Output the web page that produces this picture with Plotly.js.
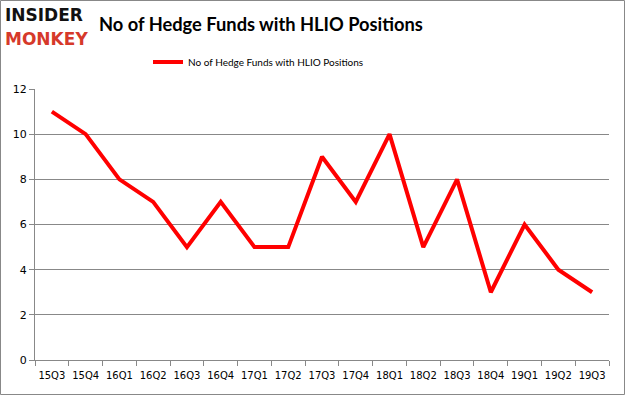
<!DOCTYPE html>
<html><head><meta charset="utf-8">
<script src="https://cdn.plot.ly/plotly-3.0.1.min.js"></script>
<style>body{margin:0;background:#fff}#c{width:625px;height:395px}</style>
</head><body><div id="c"></div>
<script>
const quarters = ["15Q3","15Q4","16Q1","16Q2","16Q3","16Q4","17Q1","17Q2","17Q3","17Q4","18Q1","18Q2","18Q3","18Q4","19Q1","19Q2","19Q3"];
const hedgeFunds = [11,10,8,7,5,7,5,5,9,7,10,5,8,3,6,4,3];
const seriesName = "No of Hedge Funds with HLIO Positions";
const yTicks = [0,2,4,6,8,10,12];

const L=35,R=16,T=89,B=35,W=625,H=395;
const pw=W-L-R, ph=H-T-B;
const px = x => (x-L)/pw;
const py = y => 1-(y-T)/ph;

Plotly.newPlot('c',[{
  x:quarters, y:hedgeFunds, type:'scatter', mode:'lines', name:seriesName,
  line:{color:'#ff0000',width:4}
}],{
  width:W,height:H,margin:{l:L,r:R,t:T,b:B},
  paper_bgcolor:'#fff',plot_bgcolor:'#fff',
  font:{family:'DejaVu Sans, Verdana, sans-serif',color:'#222'},
  title:{text:'<b>No of Hedge Funds with HLIO Positions</b>',xref:'container',yref:'container',
    x:99/W,xanchor:'left',y:1-25/H,yanchor:'middle',
    font:{family:'Lato, Noto Sans, sans-serif',size:18.3,color:'#000'}},
  showlegend:true,
  legend:{orientation:'h',x:px(148),xanchor:'left',y:py(62),yanchor:'middle',
    font:{family:'Lato, sans-serif',size:10,color:'#000'},bgcolor:'rgba(0,0,0,0)'},
  xaxis:{type:'category',range:[-0.5,16.5],tickson:'boundaries',ticks:'outside',ticklen:5,
    tickangle:0,tickcolor:'#888',showline:true,linecolor:'#888',showgrid:false,
    ticklabelstandoff:6,
    tickfont:{size:10,color:'#000'},fixedrange:true},
  yaxis:{range:[0,12],tickvals:yTicks,ticks:'outside',ticklen:5,tickcolor:'#888',
    showline:true,linecolor:'#888',showgrid:true,gridcolor:'#888',gridwidth:1,zeroline:false,
    tickfont:{size:11,color:'#000'},fixedrange:true},
  shapes:[{type:'rect',xref:'paper',yref:'paper',x0:px(0.5),x1:px(624.5),y0:py(394.5),y1:py(0.5),
    line:{color:'#888',width:1}}],
  annotations:[
    {text:'<b>INSIDER</b>',xref:'paper',yref:'paper',x:px(3),y:py(15),xanchor:'left',yanchor:'middle',showarrow:false,
     font:{family:'DejaVu Sans, sans-serif',size:17,color:'#111'}},
    {text:'<b>MONKEY</b>',xref:'paper',yref:'paper',x:px(3),y:py(39),xanchor:'left',yanchor:'middle',showarrow:false,
     font:{family:'DejaVu Sans, sans-serif',size:17,color:'#d6392a'}}
  ]
},{displayModeBar:false,staticPlot:true});
</script></body></html>
